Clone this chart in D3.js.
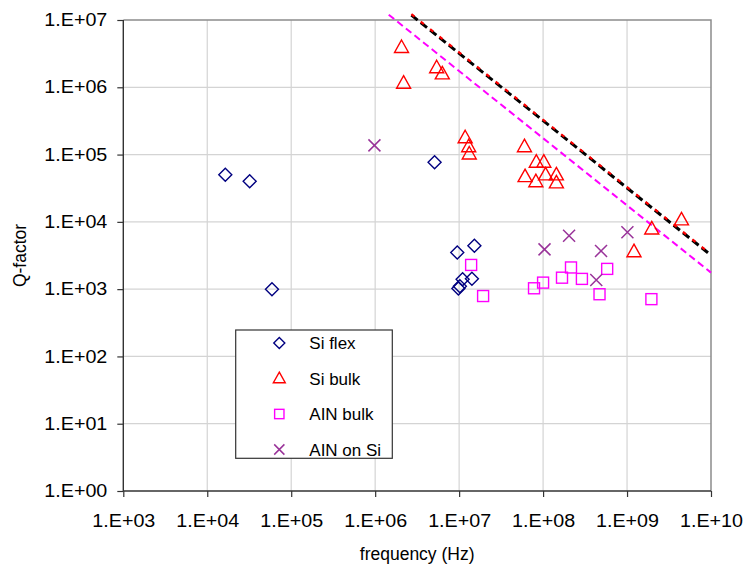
<!DOCTYPE html>
<html>
<head>
<meta charset="utf-8">
<script src="https://cdn.jsdelivr.net/npm/d3@7"></script>
<style>
  body { margin: 0; background: #fff; }
  text { font-family: "Liberation Sans", Arial, sans-serif; fill: #000; }
</style>
</head>
<body>
<div id="chart"></div>
<script>
// Data (frequency in Hz, Q-factor)
const siFlexFreq = [1.64e4, 3.2e4, 5.9e4, 5.1e6, 9.5e6, 1.52e7, 1.1e7, 1.42e7, 9.8e6, 1.02e7];
const siFlexQ    = [5.0e4, 4.0e4, 1.0e3, 7.7e4, 3.5e3, 4.4e3, 1.4e3, 1.43e3, 1.02e3, 1.1e3];

const siBulkFreq = [2.06e6, 2.18e6, 5.4e6, 6.3e6, 1.18e7, 1.3e7, 1.32e7, 6.0e7, 8.3e7, 1.02e8,
                    6.1e7, 8.2e7, 1.07e8, 1.44e8, 1.44e8, 1.97e9, 4.45e9, 1.21e9];
const siBulkQ    = [3.9e6, 1.15e6, 1.95e6, 1.58e6, 1.78e5, 1.31e5, 1.02e5, 1.31e5, 7.7e4, 7.7e4,
                    4.7e4, 3.95e4, 5.0e4, 5.0e4, 3.8e4, 7.85e3, 1.07e4, 3.6e3];

const alnBulkFreq = [1.39e7, 1.93e7, 7.8e7, 1.0e8, 1.68e8, 2.15e8, 2.9e8, 5.8e8, 4.7e8, 1.95e9];
const alnBulkQ    = [2.29e3, 7.9e2, 1.03e3, 1.25e3, 1.48e3, 2.1e3, 1.42e3, 2.0e3, 8.4e2, 7.1e2];

const alnSiFreq = [9.8e5, 1.04e8, 2.04e8, 4.9e8, 1.01e9, 4.3e8];
const alnSiQ    = [1.37e5, 3.9e3, 6.2e3, 3.7e3, 7.0e3, 1.37e3];

// Dashed limit lines (end points)
const limitFreq    = [2.7e6, 1e10];
const limitBlackQ  = [1.18e7, 3.2e3];
const limitRedQ    = [1.22e7, 3.3e3];
const limitAlnFreq = [1.45e6, 1e10];
const limitAlnQ    = [1.2e7, 1.76e3];

const xTicks = [1e3, 1e4, 1e5, 1e6, 1e7, 1e8, 1e9, 1e10];
const yTicks = [1e0, 1e1, 1e2, 1e3, 1e4, 1e5, 1e6, 1e7];
const legendNames = ["Si flex", "Si bulk", "AIN bulk", "AIN on Si"];

const width = 748, height = 569;
const pLeft = 123.3, pRight = 711, pTop = 20, pBottom = 491;

const fmt = d => "1.E" + (Math.log10(d) < 0 ? "-" : "+") + String(Math.round(Math.abs(Math.log10(d)))).padStart(2, "0");

const svg = d3.select("#chart").append("svg")
  .attr("width", width).attr("height", height);

const x = d3.scaleLog().domain([1e3, 1e10]).range([pLeft, pRight]);
const y = d3.scaleLog().domain([1e0, 1e7]).range([pBottom, pTop]);

// grid
svg.append("g").selectAll("line").data(xTicks.slice(1, -1)).join("line")
  .attr("x1", d => x(d)).attr("x2", d => x(d)).attr("y1", pTop).attr("y2", pBottom)
  .attr("stroke", "#d4d4d4").attr("stroke-width", 1.2);
svg.append("g").selectAll("line").data(yTicks.slice(1, -1)).join("line")
  .attr("x1", pLeft).attr("x2", pRight).attr("y1", d => y(d)).attr("y2", d => y(d))
  .attr("stroke", "#d4d4d4").attr("stroke-width", 1.2);

// frame top/right
svg.append("path")
  .attr("d", `M${pLeft},${pTop}H${pRight}V${pBottom}`)
  .attr("fill", "none").attr("stroke", "#8c8c8c").attr("stroke-width", 1.5);

// axes
const xAxis = svg.append("g").attr("transform", `translate(0,${pBottom})`)
  .call(d3.axisBottom(x).tickValues(xTicks).tickFormat(fmt).tickSize(6).tickPadding(18));
const yAxis = svg.append("g").attr("transform", `translate(${pLeft},0)`)
  .call(d3.axisLeft(y).tickValues(yTicks).tickFormat(fmt).tickSize(6).tickPadding(10));
[xAxis, yAxis].forEach(a => {
  a.select(".domain").attr("stroke", "#333").attr("stroke-width", 1.4);
  a.selectAll(".tick line").attr("stroke", "#333").attr("stroke-width", 1.2);
  a.selectAll(".tick text").style("font-size", "17.5px")
    .attr("font-family", "Liberation Sans, Arial, sans-serif")
    .attr("textLength", 63).attr("lengthAdjust", "spacingAndGlyphs");
});
yAxis.select(".domain").attr("d", `M0,${pTop}V${pBottom}`);
xAxis.select(".domain").attr("d", `M${pLeft},0H${pRight}`);

// axis titles
svg.append("text").attr("x", (pLeft + pRight) / 2).attr("y", 560)
  .attr("text-anchor", "middle").style("font-size", "17.5px").text("frequency (Hz)");
svg.append("text").attr("transform", `translate(26,${(pTop + pBottom) / 2}) rotate(-90)`)
  .attr("text-anchor", "middle").style("font-size", "17.5px").text("Q-factor");

// limit lines (not clipped, as in the reference)
const line = d3.line().x(d => x(d[0])).y(d => y(d[1]));
svg.append("path").datum(d3.zip(limitAlnFreq, limitAlnQ)).attr("d", line)
  .attr("fill", "none").attr("stroke", "#ff00ff").attr("stroke-width", 2)
  .attr("stroke-dasharray", "7,4");
svg.append("path").datum(d3.zip(limitFreq, limitBlackQ)).attr("d", line)
  .attr("fill", "none").attr("stroke", "#000").attr("stroke-width", 3)
  .attr("stroke-dasharray", "8,4");
svg.append("path").datum(d3.zip(limitFreq, limitRedQ)).attr("d", line)
  .attr("fill", "none").attr("stroke", "#ff0000").attr("stroke-width", 2.2)
  .attr("stroke-dasharray", "4,8");

// marker shapes
function marker(g, kind, cx, cy, s = 1) {
  if (kind === 0) {
    const r = 6.5 * s;
    g.append("path").attr("d", `M${cx},${cy - r}L${cx + r},${cy}L${cx},${cy + r}L${cx - r},${cy}Z`)
      .attr("fill", "none").attr("stroke", "#000080").attr("stroke-width", 1.4);
  } else if (kind === 1) {
    g.append("path").attr("d", `M${cx},${cy - 7.5 * s}L${cx + 7 * s},${cy + 5 * s}L${cx - 7 * s},${cy + 5 * s}Z`)
      .attr("fill", "none").attr("stroke", "#ff0000").attr("stroke-width", 1.4);
  } else if (kind === 2) {
    const r = 5.5 * s;
    g.append("rect").attr("x", cx - r).attr("y", cy - r).attr("width", 2 * r).attr("height", 2 * r)
      .attr("fill", "none").attr("stroke", "#ff00ff").attr("stroke-width", 1.4);
  } else {
    const r = 6 * s;
    g.append("path").attr("d", `M${cx - r},${cy - r}L${cx + r},${cy + r}M${cx - r},${cy + r}L${cx + r},${cy - r}`)
      .attr("fill", "none").attr("stroke", "#993399").attr("stroke-width", 1.5);
  }
}

const series = [
  [siFlexFreq, siFlexQ],
  [siBulkFreq, siBulkQ],
  [alnBulkFreq, alnBulkQ],
  [alnSiFreq, alnSiQ]
];
const pts = svg.append("g");
series.forEach((s, k) => {
  s[0].forEach((f, i) => marker(pts, k, x(f), y(s[1][i])));
});

// legend
const lg = svg.append("g");
lg.append("rect").attr("x", 235.7).attr("y", 330).attr("width", 156.6).attr("height", 128.3)
  .attr("fill", "#fff").attr("stroke", "#333").attr("stroke-width", 1.2);
legendNames.forEach((name, i) => {
  const cy = 343 + i * 35.5;
  marker(lg, i, 279.3, cy, 0.85);
  lg.append("text").attr("x", 309.3).attr("y", cy + 6).style("font-size", "17px").text(name);
});
</script>
</body>
</html>
